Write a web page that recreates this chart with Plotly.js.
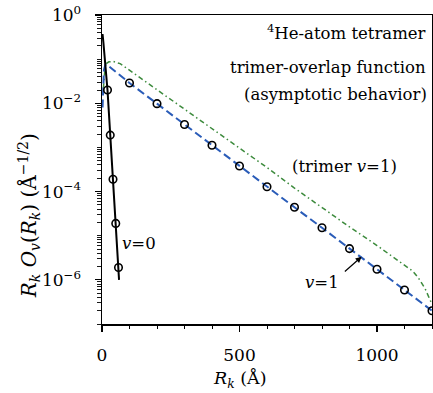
<!DOCTYPE html>
<html><head><meta charset="utf-8">
<script src="https://cdn.plot.ly/plotly-3.0.1.min.js"></script>
<style>html,body{margin:0;padding:0;background:#fff}</style>
</head><body><div id="chart" style="width:433px;height:393px"></div>
<script>
// v=0 tetramer overlap (black solid line)
const v0LineX = [1, 2, 5, 10, 15, 20, 30, 40, 50, 60, 62];
const v0LineY = [0.30, 0.37, 0.24, 0.10, 0.045, 0.020, 1.9e-3, 1.9e-4, 1.9e-5, 1.9e-6, 1.0e-6];
// v=0 asymptotic behavior (open circles)
const v0CircX = [20, 30, 40, 50, 60];
const v0CircY = [0.020, 1.9e-3, 1.9e-4, 1.9e-5, 1.9e-6];
// v=1 tetramer overlap (blue dashed line)
const v1LineX = [2, 4, 7, 12, 18, 25, 100, 200, 300, 400, 500, 600, 700, 800, 900, 1000, 1100, 1200];
const v1LineY = [0.008, 0.025, 0.056, 0.074, 0.076, 0.069, 0.0288, 0.0098, 0.0033, 0.00112, 3.8e-4, 1.29e-4, 4.4e-5, 1.51e-5, 5.1e-6, 1.74e-6, 5.9e-7, 2.0e-7];
// v=1 asymptotic behavior (open circles)
const v1CircX = [100, 200, 300, 400, 500, 600, 700, 800, 900, 1000, 1100, 1200];
const v1CircY = [0.0288, 0.0098, 0.0033, 0.00112, 3.8e-4, 1.29e-4, 4.4e-5, 1.51e-5, 5.1e-6, 1.74e-6, 5.9e-7, 2.0e-7];
// trimer v=1 (green dash-dot)
const trimerX = [5, 8, 12, 25, 40, 66, 100, 200, 300, 400, 500, 600, 700, 800, 900, 1000, 1100, 1130, 1150, 1175, 1200];
const trimerY = [0.022, 0.05, 0.076, 0.087, 0.089, 0.079, 0.056, 0.0204, 0.0074, 0.0027, 9.8e-4, 3.5e-4, 1.2e-4, 4.3e-5, 1.58e-5, 6.0e-6, 2.2e-6, 1.58e-6, 1.12e-6, 6.3e-7, 2.8e-7];
// axis ticks
const yTickVals = [1, 1e-2, 1e-4, 1e-6];
const yTickText = ['10<sup>0</sup>', '10<sup>\u22122</sup>', '10<sup>\u22124</sup>', '10<sup>\u22126</sup>'];
const xTickVals = [0, 500, 1000];
const xTickText = ['0', '500', '1000'];

const FONT = 'DejaVu Serif';
const minorY = [];
for (let e = 0; e >= -7; e--) for (let d = 2; d <= 10; d++) {
  const v = d * Math.pow(10, e - 1);
  if (v >= 1e-7 && !(d === 10 && (-e) % 2 === 0)) minorY.push(v);
}

const traces = [
  {x: trimerX, y: trimerY, mode: 'lines', line: {color: '#3d8b3d', width: 1.5, dash: '5px,3px,1.5px,3px'}, hoverinfo: 'skip'},
  {x: v1LineX, y: v1LineY, mode: 'lines', line: {color: '#2a5cb8', width: 2, dash: '8px,4px'}, hoverinfo: 'skip'},
  {x: v0LineX, y: v0LineY, mode: 'lines', line: {color: '#000', width: 2}, hoverinfo: 'skip'},
  {x: v0CircX, y: v0CircY, mode: 'markers', marker: {symbol: 'circle-open', size: 7.5, color: '#000', line: {width: 1.6, color: '#000'}}},
  {x: v1CircX, y: v1CircY, mode: 'markers', marker: {symbol: 'circle-open', size: 7.5, color: '#000', line: {width: 1.6, color: '#000'}}, cliponaxis: false}
];

const ann = (text, x, y, xanchor) => ({text, x, y, xref: 'x', yref: 'y', xanchor, yanchor: 'middle', showarrow: false, font: {family: FONT, size: 16.5, color: '#000'}});

const layout = {
  width: 433, height: 393,
  margin: {l: 102, r: 1, t: 15, b: 69},
  paper_bgcolor: '#fff', plot_bgcolor: '#fff',
  showlegend: false,
  font: {family: FONT, size: 17, color: '#000'},
  xaxis: {
    range: [0, 1200], tickmode: 'array', tickvals: xTickVals, ticktext: xTickText,
    ticks: 'outside', ticklen: 6, tickwidth: 1.2, tickcolor: '#000',
    minor: {tickmode: 'linear', tick0: 0, dtick: 100, ticks: 'outside', ticklen: 3.5, tickwidth: 1, tickcolor: '#000'},
    showline: true, linewidth: 1.5, linecolor: '#000', mirror: true,
    showgrid: false, zeroline: false, ticklabelstandoff: 9,
    tickfont: {family: FONT, size: 17}
  },
  yaxis: {
    type: 'log', range: [-7, 0], tickmode: 'array', tickvals: yTickVals, ticktext: yTickText,
    ticks: 'outside', ticklen: 6, tickwidth: 1.2, tickcolor: '#000',
    minor: {tickmode: 'array', tickvals: minorY, ticks: 'outside', ticklen: 3.5, tickwidth: 0.9, tickcolor: '#000'},
    showline: true, linewidth: 1.5, linecolor: '#000', mirror: true,
    showgrid: false, zeroline: false, ticklabelstandoff: 10,
    tickfont: {family: FONT, size: 17}
  },
  annotations: [
    ann('<sup>4</sup>He-atom tetramer', 1185, -0.385, 'right'),
    ann('trimer-overlap function', 1185, -1.20, 'right'),
    ann('(asymptotic behavior)', 1188, -1.79, 'right'),
    ann('(trimer <i>v</i>=1)', 880, -3.44, 'center'),
    ann('<i>v</i>=0', 135, -5.17, 'center'),
    ann('<i>v</i>=1', 800, -6.05, 'center'),
    {x: 944, y: -5.476, ax: 877.6, ay: -5.84, xref: 'x', yref: 'y', axref: 'x', ayref: 'y', text: '', showarrow: true, arrowhead: 2, arrowsize: 1, arrowwidth: 1.2, arrowcolor: '#000'},
    {text: '<i>R<sub>k</sub></i> (Å)', xref: 'paper', yref: 'paper', x: 0.416, y: -0.181, xanchor: 'center', yanchor: 'middle', showarrow: false, font: {family: FONT, size: 17.5}},
    {text: '<i>R<sub>k</sub> O<sub>v</sub></i>(<i>R<sub>k</sub></i>) (Å<sup>\u22121/2</sup>)', xref: 'paper', yref: 'paper', x: -0.22, y: 0.35, xanchor: 'center', yanchor: 'middle', textangle: -90, showarrow: false, font: {family: FONT, size: 20}}
  ]
};

Plotly.newPlot('chart', traces, layout, {staticPlot: true, displayModeBar: false});
</script></body></html>
